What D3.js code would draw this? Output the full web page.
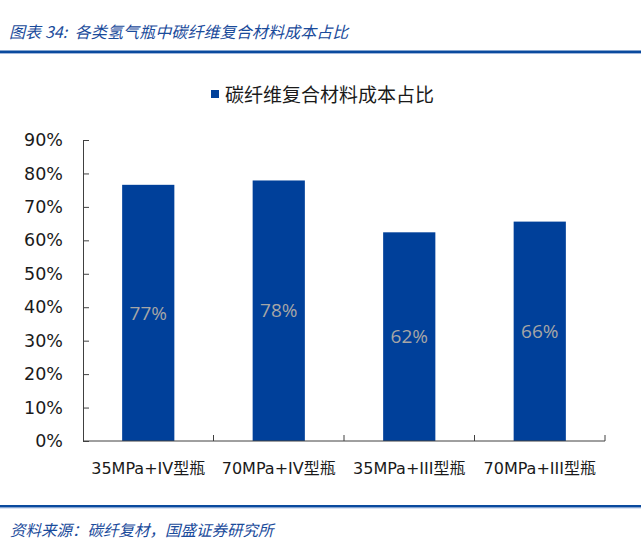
<!DOCTYPE html>
<html><head><meta charset="utf-8">
<script src="https://cdn.jsdelivr.net/npm/d3@7/dist/d3.min.js"></script>
<style>body{margin:0;background:#fff}svg{display:block}</style>
</head><body>
<script>
const categories = ["35MPa+IV型瓶", "70MPa+IV型瓶", "35MPa+III型瓶", "70MPa+III型瓶"];
const values = [0.766, 0.779, 0.624, 0.656];
const yTicks = [0, 0.1, 0.2, 0.3, 0.4, 0.5, 0.6, 0.7, 0.8, 0.9];
const seriesName = "碳纤维复合材料成本占比";
const titleText = "图表 34:  各类氢气瓶中碳纤维复合材料成本占比";
const sourceText = "资料来源：碳纤复材，国盛证券研究所";

const W = 641, H = 552;
const barColor = "#00409a";
const accent = "#1a4b9b";
const svg = d3.select("body").append("svg").attr("width", W).attr("height", H);

// Title
svg.append("text").attr("x", 9).attr("y", 38).text(titleText)
  .style("white-space", "pre")
  .attr("font-family", "'Noto Sans CJK SC', sans-serif").attr("font-style", "italic")
  .attr("font-size", 16).attr("letter-spacing", 0.1).attr("fill", accent);
svg.append("rect").attr("x", 0).attr("y", 50.5).attr("width", W).attr("height", 2.5).attr("fill", "#0a4a9e");
svg.append("rect").attr("x", 0).attr("y", 53).attr("width", W).attr("height", 0.8).attr("fill", "#8aa6d4");

// Footer
svg.append("rect").attr("x", 0).attr("y", 505).attr("width", W).attr("height", 2.5).attr("fill", "#0a4a9e");
svg.append("rect").attr("x", 0).attr("y", 507.5).attr("width", W).attr("height", 0.8).attr("fill", "#8aa6d4");
svg.append("text").attr("x", 10).attr("y", 536).text(sourceText)
  .attr("font-family", "'Noto Sans CJK SC', sans-serif").attr("font-style", "italic")
  .attr("font-size", 15.5).attr("fill", accent);

// Scales
const x = d3.scaleBand().domain(categories).range([83, 605]).paddingInner(0.6).paddingOuter(0.3);
const y = d3.scaleLinear().domain([0, 0.9]).range([441, 140]);

// Legend
svg.append("rect").attr("x", 211).attr("y", 90).attr("width", 8).attr("height", 8).attr("fill", barColor);
svg.append("text").attr("x", 225).attr("y", 102).text(seriesName)
  .attr("font-family", "'Noto Sans CJK SC', sans-serif").attr("font-size", 19).attr("fill", "#1a1a1a");

// Bars
svg.selectAll("rect.bar").data(values).enter().append("rect").attr("class", "bar")
  .attr("x", (d, i) => x(categories[i])).attr("width", x.bandwidth())
  .attr("y", d => y(d)).attr("height", d => y(0) - y(d))
  .attr("fill", barColor);

// Data labels
svg.selectAll("text.lbl").data(values).enter().append("text").attr("class", "lbl")
  .attr("x", (d, i) => x(categories[i]) + x.bandwidth() / 2)
  .attr("y", d => (y(d) + y(0)) / 2).attr("dy", "0.35em")
  .attr("text-anchor", "middle").attr("font-family", "'Open Sans', sans-serif")
  .attr("font-size", 19).attr("fill", "#a6a6a6").text(d => d3.format(".0%")(d));

// Y axis
const yAxis = d3.axisLeft(y).tickValues(yTicks).tickFormat(d3.format(".0%")).tickSizeInner(-6).tickSizeOuter(0).tickPadding(20);
const gy = svg.append("g").attr("transform", "translate(83,0)").call(yAxis);
gy.selectAll("text").attr("font-family", "'DejaVu Sans', sans-serif").attr("font-size", 17.5).attr("fill", "#1a1a1a");
gy.selectAll("line,path").attr("stroke", "#404040");

// X axis
const bounds = categories.map(c => x(c) - x.step() * x.paddingInner() / 2 + x.step());
const gx = svg.append("g");
gx.append("line").attr("x1", 83).attr("x2", 605).attr("y1", 441).attr("y2", 441).attr("stroke", "#404040");
gx.selectAll("line.t").data(bounds).enter().append("line").attr("class", "t")
  .attr("x1", d => d).attr("x2", d => d).attr("y1", 441).attr("y2", 435).attr("stroke", "#404040");
gx.selectAll("text").data(categories).enter().append("text")
  .attr("x", d => x(d) + x.bandwidth() / 2).attr("y", 474)
  .attr("text-anchor", "middle").attr("font-family", "'DejaVu Sans', 'Noto Sans CJK SC', sans-serif")
  .attr("font-size", 16).attr("fill", "#1a1a1a").text(d => d);
</script>
</body></html>
